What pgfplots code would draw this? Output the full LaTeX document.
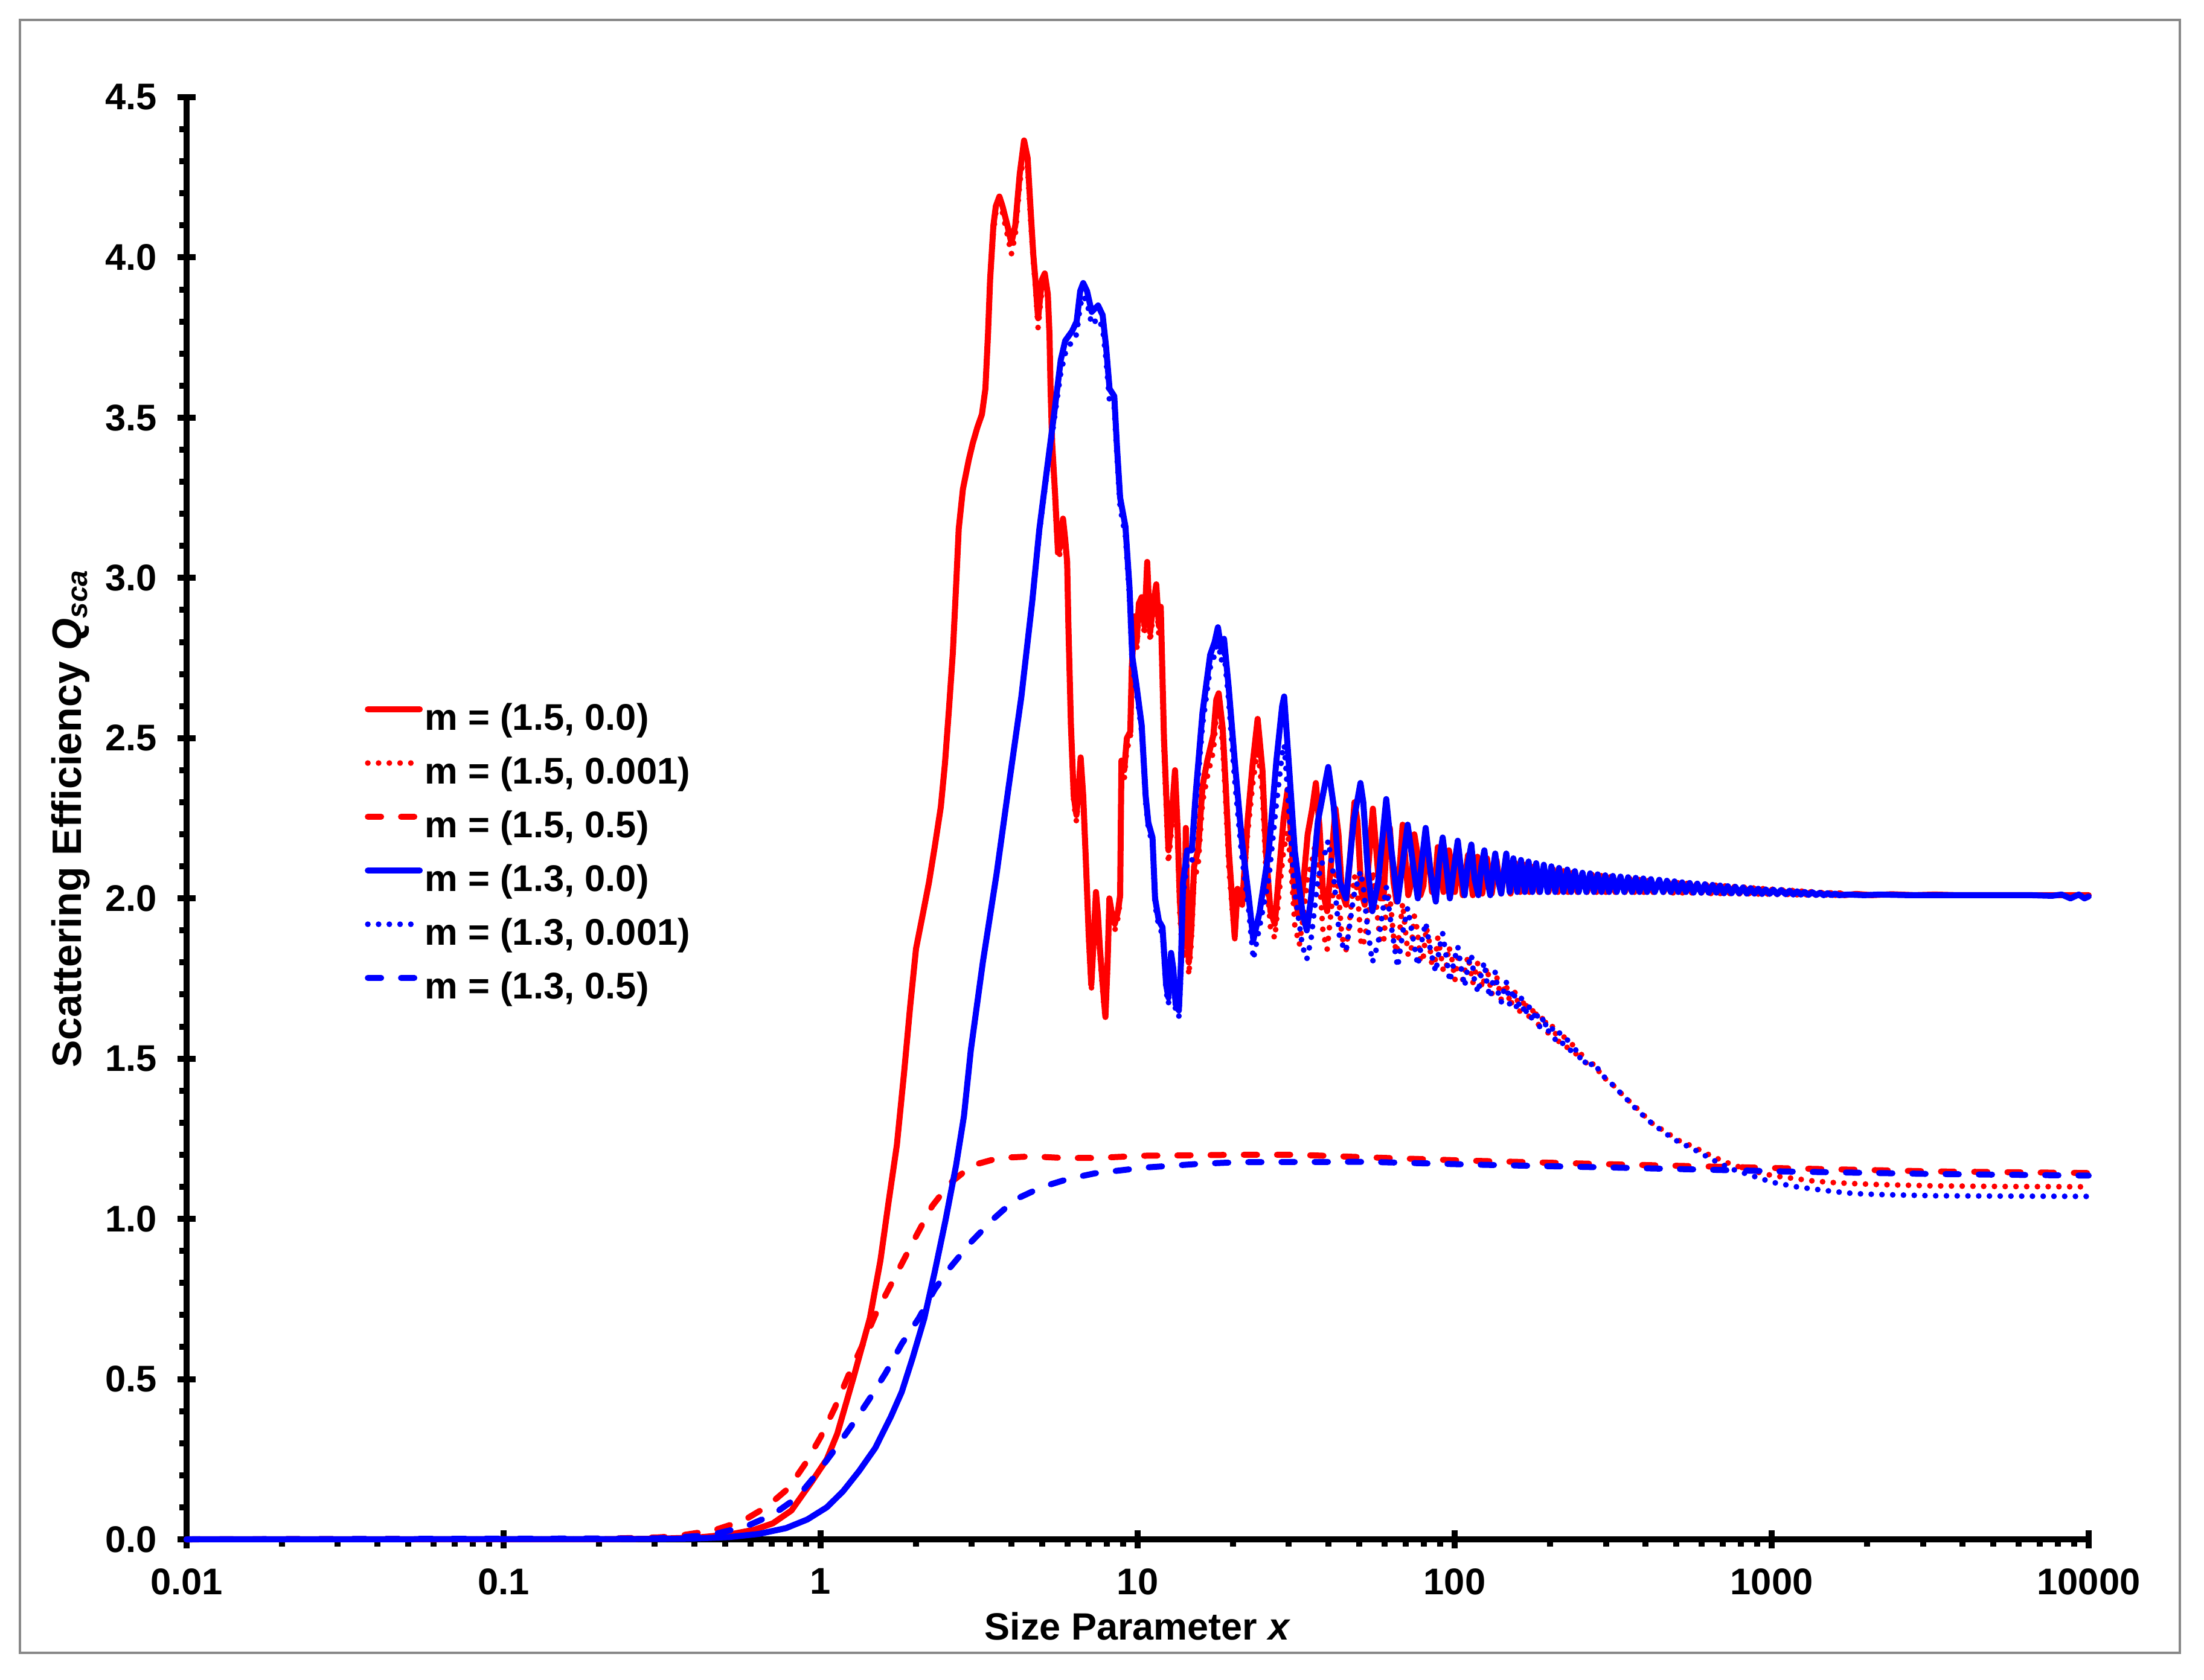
\documentclass[border=0pt]{standalone}
\usepackage{pgfplots}
\pgfplotsset{compat=1.18}
\usepackage{fontspec}
\setmainfont{Liberation Sans}
\setsansfont{Liberation Sans}
\definecolor{framegray}{RGB}{136,136,136}
\newcommand{\tfont}{\bfseries\fontsize{12.3}{14}\selectfont}
\tikzset{
  sol/.style={line width=2pt, line join=round, line cap=round},
  dot/.style={line width=1.9pt, line cap=round, line join=round, dash pattern=on 0pt off 3.56pt},
  das/.style={line width=2pt, line cap=round, line join=round, dash pattern=on 4.4pt off 6.6pt},
}
\begin{document}
\begin{tikzpicture}
\useasboundingbox (-61.8pt,-46.4pt) rectangle (668.2pt,510pt);
\draw[draw=framegray, line width=0.8pt] (-55.2pt,-37.6pt) rectangle (660.2pt,503.4pt);
\begin{axis}[
  at={(0pt,0pt)}, anchor=south west,
  width=630pt, height=477.8pt, scale only axis,
  xmode=log, xmin=0.01, xmax=10000, ymin=0, ymax=4.5,
  axis x line=bottom, axis y line=left,
  axis line style={line width=2pt, -, black},
  clip=false,
  xtick={0.01,0.1,1,10,100,1000,10000},
  xticklabels={0.01,0.1,1,10,100,1000,10000},
  minor xtick={0.02,0.03,0.04,0.05,0.06,0.07,0.08,0.09,0.2,0.3,0.4,0.5,0.6,0.7,0.8,0.9,2,3,4,5,6,7,8,9,20,30,40,50,60,70,80,90,200,300,400,500,600,700,800,900,2000,3000,4000,5000,6000,7000,8000,9000},
  ytick={0,0.5,1,1.5,2,2.5,3,3.5,4,4.5},
  yticklabels={0.0,0.5,1.0,1.5,2.0,2.5,3.0,3.5,4.0,4.5},
  minor y tick num=4,
  tick align=center,
  major tick length=6pt,
  minor tick length=2.4pt,
  major tick style={line width=2pt, black},
  minor tick style={line width=2pt, black},
  every minor x tick/.append style={yshift=-1.2pt},
  every minor y tick/.append style={xshift=-1.2pt},
  tick label style={font=\tfont, inner sep=0pt},
  xticklabel style={anchor=north, yshift=-6.5pt},
  yticklabel style={anchor=east, xshift=-6.6pt},
  xlabel={Size Parameter \textit{x}},
  ylabel={Scattering Efficiency \textit{Q}\textsubscript{\textit{sca}}},
  xlabel style={font=\bfseries\fontsize{12.6}{14}\selectfont, at={(axis description cs:0.5,0)}, anchor=base, yshift=-33.3pt, inner sep=0pt},
  ylabel style={font=\bfseries\fontsize{13.6}{15}\selectfont, at={(axis description cs:-0.0555,0.5)}, anchor=base, inner sep=0pt},
  legend cell align=left,
  legend style={draw=none, fill=none, at={(0.0937,0.581)}, anchor=north west,
    inner sep=0pt, outer sep=0pt, row sep=6.2pt, column sep=0.7pt, font=\tfont,
    nodes={inner sep=0pt, outer sep=0pt}},
  legend image code/.code={\path[draw=none, fill=none] (0pt,-5.8pt) rectangle (17.2pt,5.8pt); \draw[#1] (0pt,3.2pt) -- (17.2pt,3.2pt);},
]
% m = (1.5, 0.0)
\addplot[red, sol] coordinates {
(0.01,0) (0.204,0.0004) (0.306,0.002) (0.412,0.006) (0.515,0.015) (0.618,0.03) (0.707,0.05) (0.809,0.09) (0.935,0.178) (1.046,0.25) (1.129,0.33) (1.274,0.51) (1.430,0.69) (1.544,0.87) (1.637,1.05) (1.740,1.23) (1.834,1.457) (1.917,1.664) (2.000,1.843) (2.103,1.953) (2.197,2.05) (2.290,2.16) (2.394,2.285) (2.467,2.42) (2.540,2.59) (2.613,2.767) (2.675,2.974) (2.727,3.153) (2.811,3.277) (2.936,3.37) (3.019,3.42) (3.123,3.47) (3.227,3.51) (3.310,3.59) (3.373,3.76) (3.425,3.93) (3.508,4.10) (3.571,4.16) (3.664,4.19) (3.748,4.16) (3.883,4.10) (3.997,4.045) (4.112,4.10) (4.247,4.26) (4.383,4.365) (4.498,4.31) (4.602,4.14) (4.686,4.01) (4.759,3.93) (4.853,3.81) (4.989,3.93) (5.094,3.95) (5.209,3.885) (5.272,3.76) (5.314,3.59) (5.376,3.42) (5.492,3.26) (5.607,3.08) (5.711,3.10) (5.816,3.185) (5.910,3.12) (5.994,3.05) (6.046,2.86) (6.161,2.54) (6.286,2.32) (6.412,2.26) (6.538,2.36) (6.611,2.44) (6.736,2.32) (6.872,2.11) (7.008,1.89) (7.144,1.73) (7.249,1.85) (7.389,2.02) (7.494,1.95) (7.609,1.84) (7.777,1.72) (7.914,1.63) (8.040,1.80) (8.145,2.00) (8.303,1.95) (8.471,1.92) (8.671,1.96) (8.807,2.01) (8.891,2.43) (9.070,2.40) (9.249,2.50) (9.480,2.52) (9.585,2.72) (9.774,2.88) (9.932,2.80) (10.09,2.92) (10.30,2.94) (10.51,2.85) (10.72,3.05) (10.95,2.83) (11.14,2.90) (11.45,2.98) (11.67,2.85) (11.83,2.91) (12.11,2.50) (12.51,2.15) (12.86,2.28) (13.12,2.40) (13.39,2.20) (13.58,2.00) (13.81,1.88) (14.03,1.85) (14.19,2.22) (14.33,1.95) (14.50,1.80) (14.76,1.90) (15.07,2.10) (15.51,2.15) (16.02,2.35) (16.59,2.43) (17.34,2.51) (17.71,2.62) (18.02,2.64) (18.55,2.53) (18.97,2.35) (19.39,2.15) (20.24,1.88) (20.66,2.03) (21.37,1.98) (22.22,2.24) (23.06,2.42) (23.91,2.56) (24.76,2.40) (25.39,2.15) (26.24,1.96) (27.08,1.92) (28.04,2.10) (28.88,2.25) (29.73,2.34) (30.47,2.20) (31.32,2.00) (32.37,1.94) (33.33,2.05) (34.39,2.20) (35.55,2.28) (36.50,2.36) (37.49,2.22) (38.44,2.02) (39.61,1.96) (40.67,2.10) (42.06,2.28) (43.01,2.20) (44.07,2.02) (45.45,1.98) (46.73,2.12) (48.32,2.30) (49.38,2.24) (50.76,2.02) (52.04,1.98) (53.63,2.12) (55.22,2.28) (56.60,2.15) (58.20,2.00) (59.68,2.00) (61.17,2.20) (62.45,2.22) (64.17,2.05) (65.56,1.99) (67.16,2.10) (68.54,2.23) (69.93,2.12) (71.42,2.01) (73.02,2.05) (74.62,2.20) (76.33,2.14) (78.03,2.01) (79.74,2.04) (81.44,2.18) (83.15,2.12) (84.85,2.02) (86.67,2.04) (88.48,2.16) (90.29,2.10) (92.21,2.02) (94.13,2.05) (95.94,2.15) (98.07,2.09) (100.2,2.02)
(102.9,2.14) (106.1,2.01) (110.2,2.135) (114.1,2.01) (118.0,2.13) (122.2,2.015) (126.5,2.125) (130.9,2.015) (135.5,2.12) (140.2,2.015) (145.1,2.115) (150.1,2.015) (155.4,2.11) (160.8,2.02) (166.5,2.105) (172.3,2.02) (178.3,2.10) (184.6,2.02) (191.0,2.095) (197.7,2.02) (204.6,2.09) (211.8,2.02) (220.2,2.085) (227.9,2.02) (235.9,2.08) (244.1,2.02) (252.6,2.077) (261.5,2.02) (270.7,2.074) (280.1,2.02) (289.9,2.07) (300.1,2.02) (310.6,2.067) (321.4,2.02) (332.7,2.064) (344.3,2.02) (356.4,2.061) (368.8,2.02) (381.7,2.058) (395.2,2.02) (408.9,2.055) (423.2,2.02) (440.5,2.052) (456.0,2.02) (471.9,2.05) (488.4,2.018) (505.5,2.048) (523.2,2.018) (541.5,2.046) (560.5,2.018) (580.1,2.044) (600.4,2.018) (621.4,2.042) (643.1,2.016) (665.7,2.04) (688.9,2.016) (713.0,2.038) (738.0,2.016) (763.8,2.036) (790.5,2.015) (818.2,2.034) (846.9,2.015) (876.6,2.032) (907.2,2.014) (938.9,2.03) (971.8,2.014) (1005.9,2.028) (1041,2.013) (1077.5,2.026) (1122.5,2.013) (1161.8,2.024) (1202.3,2.012) (1244.5,2.022) (1288.0,2.012) (1333.1,2.02) (1379.8,2.011) (1428.1,2.018) (1478.0,2.011) (1529.7,2.017) (1583.4,2.01) (1638.5,2.016) (1696.2,2.01) (1849.6,2.014) (2067,2.01) (2394,2.013) (2829,2.01) (3264,2.012) (3833,2.01) (4380,2.01) (10000,2.01)
};
\addlegendentry{m = (1.5, 0.0)}
% m = (1.5, 0.001)
\addplot[red, dot] coordinates {
(0.01,0) (0.204,0.0004) (0.306,0.002) (0.412,0.006) (0.515,0.015) (0.618,0.03) (0.707,0.05) (0.809,0.09) (0.935,0.178) (1.046,0.25) (1.129,0.33) (1.274,0.51) (1.430,0.69) (1.544,0.87) (1.637,1.05) (1.740,1.23) (1.834,1.457) (1.917,1.664) (2.000,1.843) (2.103,1.953) (2.197,2.05) (2.290,2.16) (2.394,2.285) (2.467,2.42) (2.540,2.59) (2.613,2.767) (2.675,2.974) (2.727,3.153) (2.811,3.277) (2.936,3.37) (3.019,3.42) (3.123,3.47) (3.227,3.51) (3.310,3.59) (3.373,3.75) (3.425,3.92) (3.508,4.08) (3.571,4.14) (3.664,4.17) (3.748,4.14) (3.883,4.07) (3.997,4.01) (4.112,4.07) (4.247,4.23) (4.383,4.33) (4.498,4.28) (4.602,4.11) (4.686,3.99) (4.759,3.91) (4.853,3.78) (4.989,3.90) (5.094,3.93) (5.209,3.87) (5.272,3.74) (5.314,3.57) (5.376,3.40) (5.492,3.24) (5.607,3.06) (5.711,3.08) (5.816,3.16) (5.910,3.10) (5.994,3.03) (6.046,2.84) (6.161,2.52) (6.286,2.30) (6.412,2.24) (6.538,2.34) (6.611,2.42) (6.736,2.30) (6.872,2.09) (7.008,1.87) (7.144,1.71) (7.249,1.83) (7.389,2.00) (7.494,1.93) (7.609,1.82) (7.777,1.70) (7.914,1.62) (8.040,1.78) (8.145,1.98) (8.303,1.93) (8.471,1.90) (8.671,1.94) (8.807,1.99) (8.891,2.40) (9.070,2.37) (9.249,2.47) (9.480,2.49) (9.585,2.69) (9.774,2.85) (9.932,2.77) (10.09,2.89) (10.30,2.91) (10.51,2.82) (10.72,3.01) (10.95,2.80) (11.14,2.87) (11.45,2.94) (11.67,2.82) (11.83,2.87) (12.11,2.46) (12.51,2.11) (12.86,2.24) (13.12,2.36) (13.39,2.16) (13.58,1.96) (13.81,1.84) (14.03,1.81) (14.19,2.17) (14.33,1.91) (14.50,1.76) (14.76,1.86) (15.07,2.06) (15.51,2.10) (16.02,2.30) (16.59,2.38) (17.34,2.46) (17.71,2.57) (18.02,2.59) (18.55,2.48) (18.97,2.30) (19.39,2.10) (20.24,1.87) (20.66,2.02) (21.37,1.98) (22.22,2.20) (23.06,2.355) (23.91,2.47) (24.76,2.33) (25.39,2.09) (26.24,1.91) (27.08,1.875) (28.04,2.03) (28.88,2.15) (29.73,2.21) (30.47,2.10) (31.32,1.915) (32.37,1.855) (33.33,1.945) (34.39,2.065) (35.55,2.12) (36.50,2.18) (37.49,2.06) (38.44,1.895) (39.61,1.84) (40.67,1.95) (42.06,2.09) (43.01,2.02) (44.07,1.88) (45.45,1.84) (46.73,1.94) (48.32,2.07) (49.38,2.02) (50.76,1.85) (52.04,1.87) (53.63,1.97) (55.22,2.085) (56.60,1.98) (58.20,1.865) (59.68,1.86) (61.17,2.0) (62.45,2.01) (64.17,1.88) (65.56,1.83) (67.16,1.90) (68.54,1.985) (69.93,1.90) (71.42,1.82) (73.02,1.845) (74.62,1.945) (76.33,1.90) (78.03,1.80) (79.74,1.82) (81.44,1.91) (83.15,1.865) (84.85,1.79) (86.67,1.80) (88.48,1.877) (90.29,1.83) (92.21,1.77) (94.13,1.785) (95.94,1.85) (98.07,1.81) (100.2,1.745)
(102.9,1.83) (106.1,1.745) (110.2,1.82) (114.1,1.735) (118.0,1.80) (122.2,1.72) (126.5,1.785) (130.9,1.70) (135.5,1.76) (140.2,1.685) (145.1,1.735) (150.1,1.665) (155.4,1.71) (160.8,1.645) (166.5,1.685) (172.3,1.625) (178.3,1.66) (184.6,1.60) (191.0,1.635) (197.7,1.575) (204.6,1.605) (211.8,1.55) (220.2,1.575) (227.9,1.525) (235.9,1.545) (244.1,1.50) (252.6,1.515) (261.5,1.48) (270.7,1.49) (280.1,1.46) (289.9,1.46) (300.1,1.435) (310.6,1.425) (321.4,1.41) (344,1.38) (376,1.345) (417,1.30) (465,1.27) (508,1.245) (561,1.227) (649,1.195) (751,1.169) (865,1.15) (1006,1.135) (1197,1.125) (1357,1.118) (1578,1.113) (1815,1.11) (2176,1.107) (3264,1.103) (5475,1.101) (10000,1.10)
};
\addlegendentry{m = (1.5, 0.001)}
% m = (1.5, 0.5)
\addplot[red, das] coordinates {
(0.01,0) (0.204,0.002) (0.306,0.006) (0.35,0.01) (0.46,0.028) (0.57,0.058) (0.679,0.103) (0.793,0.16) (0.90,0.24) (1.001,0.32) (1.108,0.41) (1.222,0.51) (1.347,0.60) (1.487,0.70) (1.637,0.78) (1.803,0.86) (2.010,0.95) (2.249,1.04) (2.550,1.11) (3.008,1.167) (3.654,1.19) (4.634,1.195) (5.837,1.19) (7.322,1.19) (10.51,1.197) (21.1,1.20) (31.7,1.20) (53.1,1.192) (107,1.182) (322,1.17) (1081,1.158) (3264,1.148) (10000,1.143)
};
\addlegendentry{m = (1.5, 0.5)}
% m = (1.3, 0.0)
\addplot[blue, sol] coordinates {
(0.01,0) (0.306,0.001) (0.412,0.003) (0.515,0.007) (0.639,0.017) (0.778,0.035) (0.908,0.062) (1.046,0.10) (1.177,0.15) (1.322,0.213) (1.487,0.285) (1.668,0.384) (1.803,0.46) (1.948,0.564) (2.124,0.69) (2.290,0.834) (2.478,0.996) (2.675,1.167) (2.832,1.32) (2.977,1.526) (3.248,1.80) (3.591,2.077) (3.925,2.353) (4.299,2.63) (4.655,2.93) (4.895,3.15) (5.178,3.34) (5.450,3.51) (5.722,3.68) (5.910,3.74) (6.213,3.77) (6.422,3.80) (6.590,3.895) (6.736,3.92) (6.925,3.895) (7.165,3.83) (7.504,3.85) (7.756,3.82) (7.956,3.72) (8.156,3.59) (8.440,3.567) (8.618,3.40) (8.807,3.25) (9.154,3.16) (9.427,2.97) (9.617,2.755) (9.900,2.67) (10.30,2.54) (10.60,2.32) (10.81,2.236) (11.14,2.19) (11.35,2.00) (11.67,1.93) (11.98,1.91) (12.30,1.73) (12.51,1.69) (12.75,1.83) (12.96,1.78) (13.18,1.67) (13.49,1.65) (13.70,1.80) (13.91,2.05) (14.33,2.15) (14.82,2.15) (15.23,2.32) (16.02,2.58) (16.94,2.76) (17.50,2.80) (17.92,2.846) (18.34,2.78) (18.73,2.81) (19.37,2.66) (20.24,2.43) (21.27,2.19) (22.43,2.00) (23.17,1.87) (24.23,1.955) (25.92,2.147) (27.40,2.43) (28.57,2.60) (28.99,2.63) (29.94,2.43) (31.32,2.147) (33.12,1.955) (34.17,1.90) (35.23,2.00) (37.03,2.24) (39.93,2.41) (41.52,2.29) (43.44,2.05) (45.45,2.00) (48.00,2.24) (50.45,2.36) (51.51,2.30) (53.10,2.10) (55.01,1.96) (57.35,2.05) (60.85,2.31) (63.19,2.15) (66.09,1.99) (68.76,2.12) (71.10,2.23) (74.09,2.10) (76.54,2.00) (78.88,2.12) (81.02,2.22) (84.00,2.08) (87.20,1.99) (89.54,2.12) (91.68,2.19) (94.34,2.09) (96.58,2.00) (99.67,2.10) (102.3,2.18) (105.0,2.08) (107.5,2.01) (110.2,2.11) (112.9,2.168) (115.6,2.06) (118.8,2.01) (121.4,2.10) (124.1,2.15) (126.8,2.06) (129.5,2.01) (132.1,2.09) (134.3,2.14) (137.5,2.05) (140.2,2.015) (142.8,2.08) (145.5,2.14)
(149.1,2.02) (153.2,2.125) (157.5,2.02) (161.9,2.12) (166.5,2.02) (171.1,2.115) (175.9,2.02) (180.8,2.11) (185.9,2.02) (191.1,2.105) (196.5,2.02) (201.9,2.10) (207.6,2.02) (213.5,2.095) (220.4,2.02) (226.6,2.09) (233.0,2.02) (239.5,2.085) (246.2,2.02) (253.1,2.08) (260.2,2.02) (267.5,2.078) (275.0,2.02) (282.6,2.075) (290.6,2.02) (298.7,2.072) (307.0,2.02) (315.6,2.07) (324.5,2.02) (333.6,2.068) (342.9,2.02) (352.5,2.066) (362.4,2.02) (372.6,2.064) (383.0,2.02) (393.8,2.062) (404.7,2.02) (416.1,2.06) (427.7,2.02) (442.1,2.058) (454.6,2.02) (467.3,2.055) (480.4,2.02) (493.8,2.053) (507.6,2.02) (521.9,2.05) (536.5,2.02) (551.5,2.048) (567.0,2.018) (582.9,2.046) (599.2,2.018) (616.0,2.044) (633.2,2.018) (651.0,2.042) (669.3,2.018) (687.9,2.04) (707.2,2.016) (727.0,2.038) (747.4,2.016) (768.4,2.036) (789.9,2.016) (812.0,2.034) (834.7,2.015) (858.1,2.032) (882.1,2.015) (906.9,2.03) (932.3,2.014) (958.3,2.028) (985.2,2.014) (1012.8,2.027) (1041.1,2.013) (1070.2,2.026) (1107.4,2.013) (1138.4,2.024) (1170.3,2.012) (1203.0,2.022) (1236.7,2.012) (1271.3,2.02) (1306.9,2.011) (1343.5,2.019) (1381.1,2.011) (1419.8,2.017) (1459.5,2.01) (1500.4,2.016) (1542.5,2.01) (1585.7,2.015) (1629.8,2.01) (1741,2.012) (1958,2.01) (2176,2.012) (2720,2.01) (3264,2.01) (4380,2.01) (5475,2.01) (6570,2.01) (7665,2.008) (8213,2.012) (8760,2.0) (9308,2.012) (9700,2.0) (10000,2.006)
};
\addlegendentry{m = (1.3, 0.0)}
% m = (1.3, 0.001)
\addplot[blue, dot] coordinates {
(0.01,0) (0.306,0.001) (0.412,0.003) (0.515,0.007) (0.639,0.017) (0.778,0.035) (0.908,0.062) (1.046,0.10) (1.177,0.15) (1.322,0.213) (1.487,0.285) (1.668,0.384) (1.803,0.46) (1.948,0.564) (2.124,0.69) (2.290,0.834) (2.478,0.996) (2.675,1.167) (2.832,1.32) (2.977,1.526) (3.248,1.80) (3.591,2.077) (3.925,2.353) (4.299,2.63) (4.655,2.93) (4.895,3.14) (5.178,3.33) (5.450,3.49) (5.722,3.64) (5.910,3.70) (6.213,3.74) (6.422,3.76) (6.590,3.85) (6.736,3.88) (6.925,3.86) (7.165,3.79) (7.504,3.81) (7.756,3.78) (7.956,3.68) (8.156,3.55) (8.440,3.53) (8.618,3.37) (8.807,3.22) (9.154,3.13) (9.427,2.94) (9.617,2.73) (9.900,2.65) (10.30,2.52) (10.60,2.30) (10.81,2.22) (11.14,2.17) (11.35,1.98) (11.67,1.91) (11.98,1.89) (12.30,1.71) (12.51,1.67) (12.75,1.80) (12.96,1.75) (13.18,1.645) (13.49,1.63) (13.70,1.77) (13.91,2.01) (14.33,2.11) (14.82,2.11) (15.23,2.28) (16.02,2.54) (16.94,2.72) (17.50,2.76) (17.92,2.81) (18.34,2.74) (18.73,2.77) (19.37,2.62) (20.24,2.37) (21.27,2.14) (22.43,1.96) (23.17,1.81) (24.23,1.91) (25.92,2.06) (27.40,2.295) (28.57,2.45) (28.99,2.48) (29.94,2.29) (31.32,2.02) (33.12,1.85) (34.17,1.81) (35.23,1.87) (37.03,2.06) (39.93,2.18) (41.52,2.07) (43.44,1.87) (45.45,1.835) (48.00,2.005) (50.45,2.085) (51.51,2.035) (53.10,1.91) (55.01,1.80) (57.35,1.86) (60.85,2.035) (63.19,1.91) (66.09,1.785) (68.76,1.90) (71.10,1.97) (74.09,1.87) (76.54,1.79) (78.88,1.87) (81.02,1.925) (84.00,1.835) (87.20,1.77) (89.54,1.845) (91.68,1.89) (94.34,1.81) (96.58,1.74) (99.67,1.805) (102.3,1.85) (105.0,1.78) (107.5,1.725) (110.2,1.79) (112.9,1.825) (115.6,1.74) (118.8,1.705) (121.4,1.77) (124.1,1.80) (126.8,1.725) (129.5,1.69) (132.1,1.745) (134.3,1.77) (137.5,1.70) (140.2,1.675) (142.8,1.71) (145.5,1.74)
(149.1,1.67) (153.2,1.715) (157.5,1.65) (161.9,1.695) (166.5,1.635) (171.1,1.67) (175.9,1.615) (180.8,1.65) (185.9,1.595) (191.1,1.63) (196.5,1.58) (201.9,1.605) (207.6,1.56) (213.5,1.585) (220.4,1.54) (226.6,1.56) (233.0,1.52) (239.5,1.535) (246.2,1.50) (253.1,1.51) (260.2,1.48) (267.5,1.49) (275.0,1.465) (282.6,1.47) (290.6,1.45) (307.0,1.43) (324.5,1.405) (344,1.38) (376,1.34) (417,1.30) (465,1.265) (508,1.24) (561,1.22) (649,1.185) (751,1.155) (865,1.135) (1006,1.114) (1197,1.10) (1357,1.093) (1578,1.085) (1815,1.079) (2176,1.076) (3264,1.072) (5475,1.071) (10000,1.07)
};
\addlegendentry{m = (1.3, 0.001)}
% m = (1.3, 0.5)
\addplot[blue, das] coordinates {
(0.01,0) (0.306,0.003) (0.443,0.012) (0.581,0.04) (0.707,0.077) (0.842,0.13) (0.964,0.20) (1.108,0.28) (1.274,0.365) (1.430,0.44) (1.606,0.52) (1.803,0.61) (2.040,0.69) (2.290,0.78) (2.571,0.85) (2.998,0.93) (3.508,1.00) (4.102,1.06) (5.010,1.10) (6.067,1.125) (7.322,1.142) (10.51,1.16) (15.81,1.172) (21.1,1.177) (53.1,1.178) (107,1.17) (322,1.16) (1081,1.148) (3264,1.14) (10000,1.135)
};
\addlegendentry{m = (1.3, 0.5)}
\end{axis}
\end{tikzpicture}
\end{document}
